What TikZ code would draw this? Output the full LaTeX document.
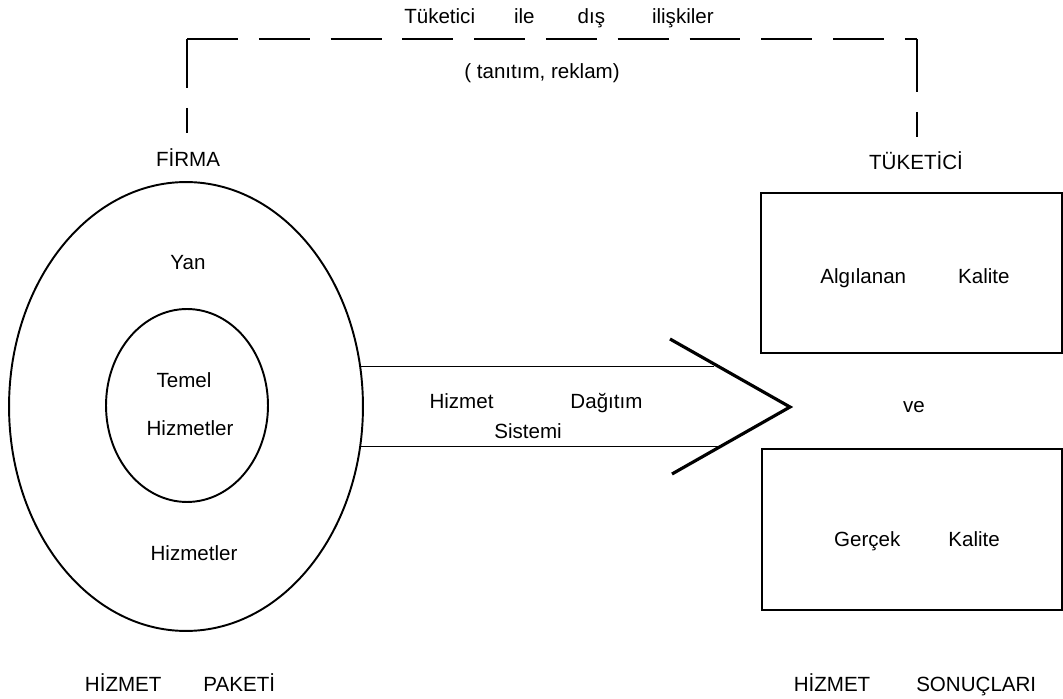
\documentclass[tikz,border=0pt]{standalone}
\usepackage{fontspec}
\setmainfont{Liberation Sans}
\usepackage{tikz}
\usetikzlibrary{shapes.geometric}
\usetikzlibrary{calc}
\tikzset{
    lbl/.style={inner sep=0pt, anchor=base, font=\fontsize{11.7}{14}\selectfont},
    oval/.style={draw, ellipse, line width=1.1pt, inner sep=0pt, outer sep=0pt},
    resbox/.style={draw, rectangle, line width=1.1pt, inner sep=0pt, outer sep=0pt},
}

\begin{document}
\begin{tikzpicture}[x=0.02cm, y=-0.02cm]
        \path[use as bounding box, fill=white] (0,0) rectangle (1063,699);

        % top labels
        \node[lbl] (dis) at (559,24) {T\"uketici\hspace{0.78cm}ile\hspace{0.86cm}dı\c{s}\hspace{0.94cm}ili\c{s}kiler};
        \node[lbl] (tanitim) at (542,79) {( tanıtım, reklam)};
        \node[lbl] (firma) at (188,167) {F\.IRMA};
        \node[lbl] (tuketici) at (916,170) {T\"UKET\.IC\.I};

        % dashed link over the top
        \coordinate (lc) at (187,39);
        \coordinate (rc) at (917,39);
        \draw[
            line width=0.6pt,
            dash pattern=on 1.02cm off 0.416cm,
        ] (lc) -- (rc);
        \draw[line width=0.6pt] (lc) -- ++(0,49) ++(0,20) -- ++(0,25);
        \draw[line width=0.6pt] (rc) -- ++(0,53) ++(0,20) -- ++(0,25);

        % hizmet paketi
        \node[oval, minimum width=7.08cm, minimum height=8.98cm] (outer) at (186,406.5) {};
        \node[oval, minimum width=3.24cm, minimum height=3.86cm] (inner) at (187,405.5) {};
        \node[lbl] (yan) at (188,270) {Yan};
        \node[lbl] (temel) at (184,388) {Temel};
        \node[lbl] (hizin) at (190,436) {Hizmetler};
        \node[lbl] (hizout) at (194,561) {Hizmetler};
        \node[lbl] (paket) at (180,691) {H\.IZMET\hspace{0.84cm}PAKET\.I};

        % dagitim sistemi
        \coordinate (chevtop) at (670,339);
        \coordinate (chevtip) at (790,407);
        \coordinate (chevbot) at (672,474);
        \coordinate (bt) at ($(chevtop)!0.37!(chevtip)$);
        \coordinate (bb) at ($(chevtip)!0.612!(chevbot)$);
        \draw[line width=0.9pt] (outer.13.6) -- (bt |- outer.13.6);
        \draw[line width=0.9pt] (outer.-13.6) -- (bb |- outer.-13.6);
        \draw[line width=1.8pt] (chevtop) -- (chevtip) -- (chevbot);
        \node[lbl] (dagitim) at (536,409) {Hizmet\hspace{1.54cm}Da\u{g}ıtım};
        \node[lbl] (sistemi) at (528,439) {Sistemi};

        % hizmet sonuclari
        \node[resbox, minimum width=6.02cm, minimum height=3.2cm] (algi) at (911.5,273) {};
        \node[resbox, minimum width=6.0cm, minimum height=3.22cm] (gercek) at (912,529.5) {};
        \node[lbl] (algitxt) at (915,284) {Algılanan\hspace{1.04cm}Kalite};
        \node[lbl] (ve) at (914,413) {ve};
        \node[lbl] (gercektxt) at (917,547) {Ger\c{c}ek\hspace{0.96cm}Kalite};
        \node[lbl] (sonuc) at (915,691) {H\.IZMET\hspace{0.92cm}SONU\c{C}LARI};
\end{tikzpicture}
\end{document}
